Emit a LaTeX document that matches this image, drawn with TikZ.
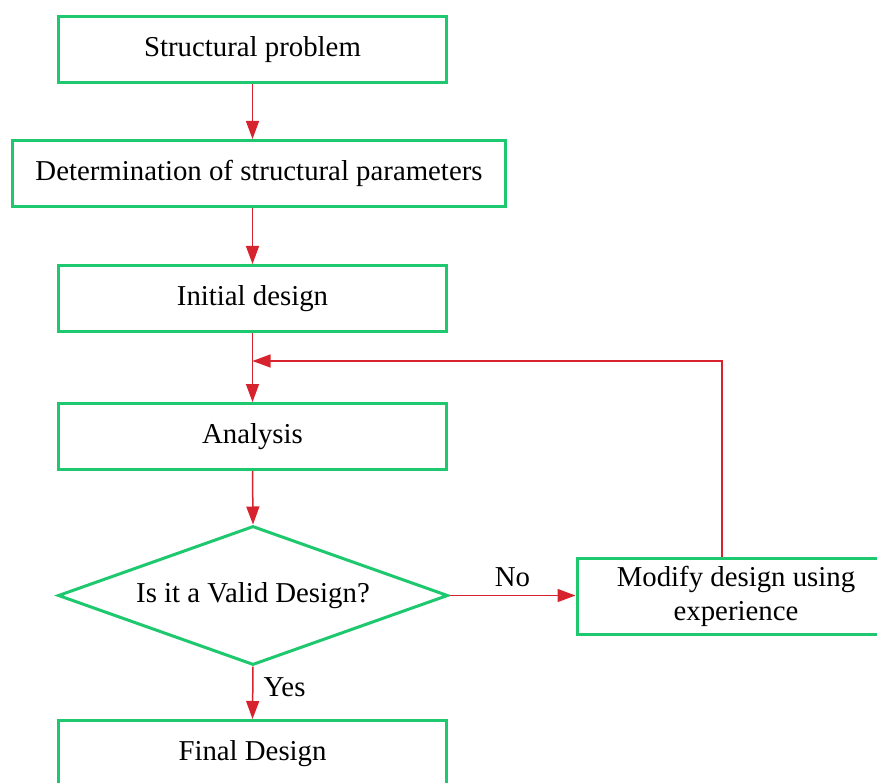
\documentclass[tikz,border=0pt]{standalone}
\usepackage{fontspec}
\setmainfont{Liberation Serif}
\usetikzlibrary{arrows.meta,shapes.geometric}
\definecolor{boxgreen}{RGB}{30,200,110}
\definecolor{linkred}{RGB}{215,35,45}
\begin{document}
\begin{tikzpicture}[x=1pt,y=-1pt,
 txt/.style={font=\fontsize{28.8}{34}\selectfont},
 box/.style={txt,draw=boxgreen,line width=3pt,rectangle,inner sep=0pt,minimum width=388pt,minimum height=66pt,align=center},
 dec/.style={txt,draw=boxgreen,line width=3pt,diamond,aspect=2.78,inner sep=0pt,minimum width=390pt,minimum height=139pt},
 link/.style={draw=linkred,line width=1.5pt,-{Triangle[length=18pt,width=13pt]}},
 lab/.style={txt,inner sep=0pt}]
\clip (0,0) rectangle (877,783);
\node[box] (sp) at (252.5,49.5) {Structural problem};
\node[box,minimum width=493pt] (det) at (259,173.5) {Determination of structural parameters};
\node[box] (init) at (252.5,298.5) {Initial design};
\node[box] (ana) at (252.5,436.5) {Analysis};
\node[dec] (dia) at (253,595.5) {Is it a Valid Design?};
\node[box,minimum width=318pt,minimum height=76pt] (mod) at (736,596.5) {Modify design using\\experience};
\node[box] (fin) at (252.5,753.5) {Final Design};
\coordinate (fb) at (722,361);
\draw[link] (sp.south) -- (sp.south |- det.north);
\draw[link] (sp.south |- det.south) -- (init.north);
\draw[link] (init.south) -- (ana.north);
\draw[link] (mod.north -| fb) -- (fb) -- (init.south |- fb);
\draw[link] (ana.south) -- (dia.north);
\draw[link] (dia.east) -- (dia.east -| mod.west) node[lab,midway,above=8pt] {No};
\draw[link] (dia.south) -- (fin.north) node[lab,pos=0.4,right=10pt] {Yes};
\end{tikzpicture}
\end{document}
